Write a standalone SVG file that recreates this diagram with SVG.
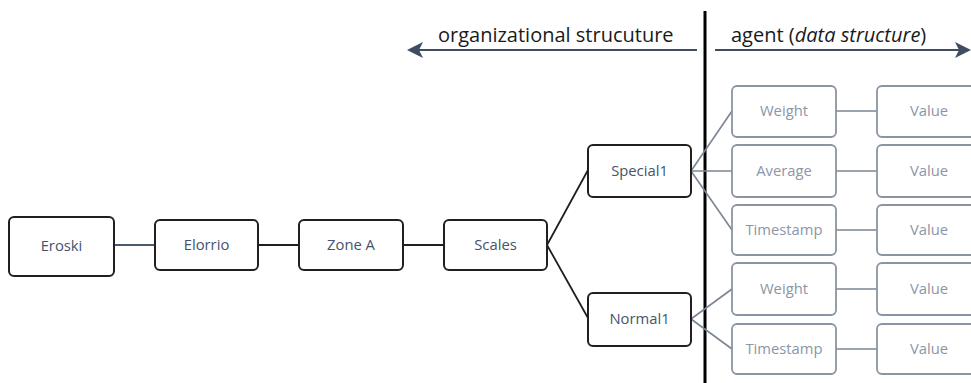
<svg xmlns="http://www.w3.org/2000/svg" width="971" height="383" viewBox="0 0 971 383">
<style>
.org rect{fill:#fff;stroke:#231f20;stroke-width:2}
.org text{fill:#44546a;font-family:"Open Sans","Liberation Sans",sans-serif;font-size:14.8px;text-anchor:middle}
.ag rect{fill:#fff;stroke:#8a94a2;stroke-width:1.8}
.ag text{fill:#8a96a8;font-family:"Open Sans","Liberation Sans",sans-serif;font-size:14.8px;text-anchor:middle}
.hdr{fill:#1a1a1a;font-family:"Open Sans","Liberation Sans",sans-serif;font-size:20px}
.cb{stroke:#231f20;stroke-width:1.8;fill:none}
.cg{stroke:#7a8594;stroke-width:1.6;fill:none}
.arr{stroke:#3e4d5f;stroke-width:2;fill:none}
</style>
<defs>
<marker id="ah" viewBox="0 0 16 16" refX="14" refY="8" markerWidth="16" markerHeight="16" markerUnits="userSpaceOnUse" orient="auto-start-reverse">
<path d="M0,0 L16,8 L0,16 L4,8 Z" fill="#3e4d5f"/>
</marker>
</defs>
<g id="header">
<line class="arr" x1="697" y1="50" x2="409" y2="50" marker-end="url(#ah)"/>
<line class="arr" x1="715" y1="50" x2="969" y2="50" marker-end="url(#ah)"/>
<line x1="705" y1="11" x2="705" y2="383" stroke="#000" stroke-width="3"/>
<text class="hdr" x="438" y="42">organizational strucuture</text>
<text class="hdr" x="731" y="42">agent (<tspan font-style="italic">data structure</tspan>)</text>
</g>
<g id="connectors">
<line x1="114" y1="245" x2="155" y2="245" stroke="#4a5a6e" stroke-width="1.8"/>
<line class="cb" x1="258" y1="245" x2="299" y2="245"/>
<line class="cb" x1="403" y1="245" x2="444" y2="245"/>
<polyline class="cb" points="588,170 547,245 588,318"/>
<line class="cg" x1="691" y1="171" x2="732" y2="111"/>
<line class="cg" x1="691" y1="171" x2="732" y2="171"/>
<line class="cg" x1="691" y1="171" x2="732" y2="230"/>
<line class="cg" x1="691" y1="319" x2="732" y2="289"/>
<line class="cg" x1="691" y1="319" x2="732" y2="349"/>
<line class="cg" x1="836" y1="111" x2="877" y2="111"/>
<line class="cg" x1="836" y1="171" x2="877" y2="171"/>
<line class="cg" x1="836" y1="230" x2="877" y2="230"/>
<line class="cg" x1="836" y1="289" x2="877" y2="289"/>
<line class="cg" x1="836" y1="349" x2="877" y2="349"/>
</g>
<g id="eroski" class="org"><rect x="9" y="217" width="105" height="59" rx="5"/><text x="61.5" y="251">Eroski</text></g>
<g id="elorrio" class="org"><rect x="155" y="220" width="103" height="50" rx="5"/><text x="206.5" y="250">Elorrio</text></g>
<g id="zonea" class="org"><rect x="299" y="220" width="104" height="50" rx="5"/><text x="351" y="250">Zone A</text></g>
<g id="scales" class="org"><rect x="444" y="220" width="103" height="50" rx="5"/><text x="495.5" y="250">Scales</text></g>
<g id="special1" class="org"><rect x="588" y="145" width="103" height="52" rx="5"/><text x="639.5" y="176">Special1</text></g>
<g id="normal1" class="org"><rect x="588" y="293" width="103" height="53" rx="5"/><text x="639.5" y="324">Normal1</text></g>
<g id="weight1" class="ag"><rect x="732" y="86" width="104" height="51" rx="5"/><text x="784" y="116">Weight</text></g>
<g id="average1" class="ag"><rect x="732" y="145" width="104" height="52" rx="5"/><text x="784" y="176">Average</text></g>
<g id="timestamp1" class="ag"><rect x="732" y="205" width="104" height="50" rx="5"/><text x="784" y="235">Timestamp</text></g>
<g id="weight2" class="ag"><rect x="732" y="263" width="104" height="52" rx="5"/><text x="784" y="294">Weight</text></g>
<g id="timestamp2" class="ag"><rect x="732" y="324" width="104" height="50" rx="5"/><text x="784" y="354">Timestamp</text></g>
<g id="value1" class="ag"><rect x="877" y="86" width="104" height="51" rx="5"/><text x="929" y="116">Value</text></g>
<g id="value2" class="ag"><rect x="877" y="145" width="104" height="52" rx="5"/><text x="929" y="176">Value</text></g>
<g id="value3" class="ag"><rect x="877" y="205" width="104" height="50" rx="5"/><text x="929" y="235">Value</text></g>
<g id="value4" class="ag"><rect x="877" y="263" width="104" height="52" rx="5"/><text x="929" y="294">Value</text></g>
<g id="value5" class="ag"><rect x="877" y="324" width="104" height="50" rx="5"/><text x="929" y="354">Value</text></g>
</svg>
